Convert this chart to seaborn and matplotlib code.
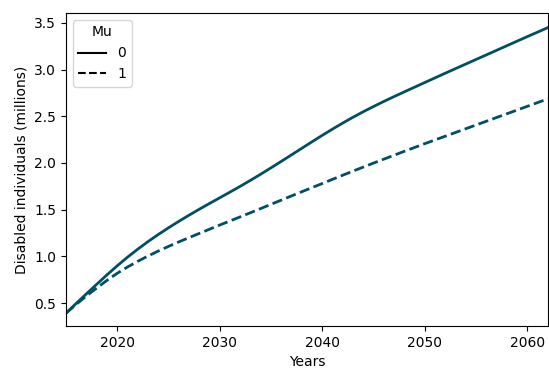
import numpy as np
import pandas as pd
import matplotlib
matplotlib.use("Agg")
import matplotlib.pyplot as plt
from matplotlib.lines import Line2D
import seaborn as sns

years = list(range(2015, 2063))
mu0 = [0.390, 0.495, 0.598, 0.700, 0.801, 0.898, 0.990, 1.076, 1.157, 1.233,
       1.305, 1.374, 1.440, 1.504, 1.566, 1.627, 1.688, 1.750, 1.814, 1.880,
       1.948, 2.017, 2.087, 2.157, 2.227, 2.296, 2.363, 2.428, 2.490, 2.549,
       2.605, 2.659, 2.711, 2.762, 2.812, 2.862, 2.912, 2.962, 3.011, 3.060,
       3.109, 3.158, 3.207, 3.256, 3.305, 3.354, 3.402, 3.450]
mu1 = [0.390, 0.485, 0.575, 0.660, 0.742, 0.818, 0.885, 0.946, 1.003, 1.056,
       1.106, 1.154, 1.200, 1.245, 1.290, 1.335, 1.379, 1.423, 1.467, 1.512,
       1.557, 1.602, 1.647, 1.692, 1.736, 1.780, 1.825, 1.869, 1.913, 1.956,
       1.999, 2.041, 2.083, 2.125, 2.166, 2.207, 2.247, 2.287, 2.327, 2.367,
       2.407, 2.447, 2.487, 2.527, 2.567, 2.607, 2.647, 2.687]
mu_labels = ["0", "1"]

df = pd.DataFrame({
    "Years": years + years,
    "Disabled": mu0 + mu1,
    "Mu": [mu_labels[0]] * len(years) + [mu_labels[1]] * len(years),
})

fig = plt.figure(figsize=(5.49, 3.70), dpi=100)
ax = fig.add_axes([0.120, 0.119, 0.878, 0.846])
color = "#004f62"
sns.lineplot(data=df, x="Years", y="Disabled", style="Mu", color=color,
             dashes=["", (3.7, 1.6)], linewidth=2, ax=ax, legend=False)
ax.set_xlim(2015, 2062)
ax.set_ylim(0.254, 3.607)
ax.set_yticks([0.5, 1.0, 1.5, 2.0, 2.5, 3.0, 3.5])
ax.set_xticks([2020, 2030, 2040, 2050, 2060])
ax.set_xlabel("Years")
ax.set_ylabel("Disabled individuals (millions)")
handles = [Line2D([], [], color="black", lw=1.5, linestyle="-"),
           Line2D([], [], color="black", lw=1.5, linestyle="--")]
ax.legend(handles, mu_labels, title="Mu", loc="upper left")
fig.savefig("out.png", dpi=100)
